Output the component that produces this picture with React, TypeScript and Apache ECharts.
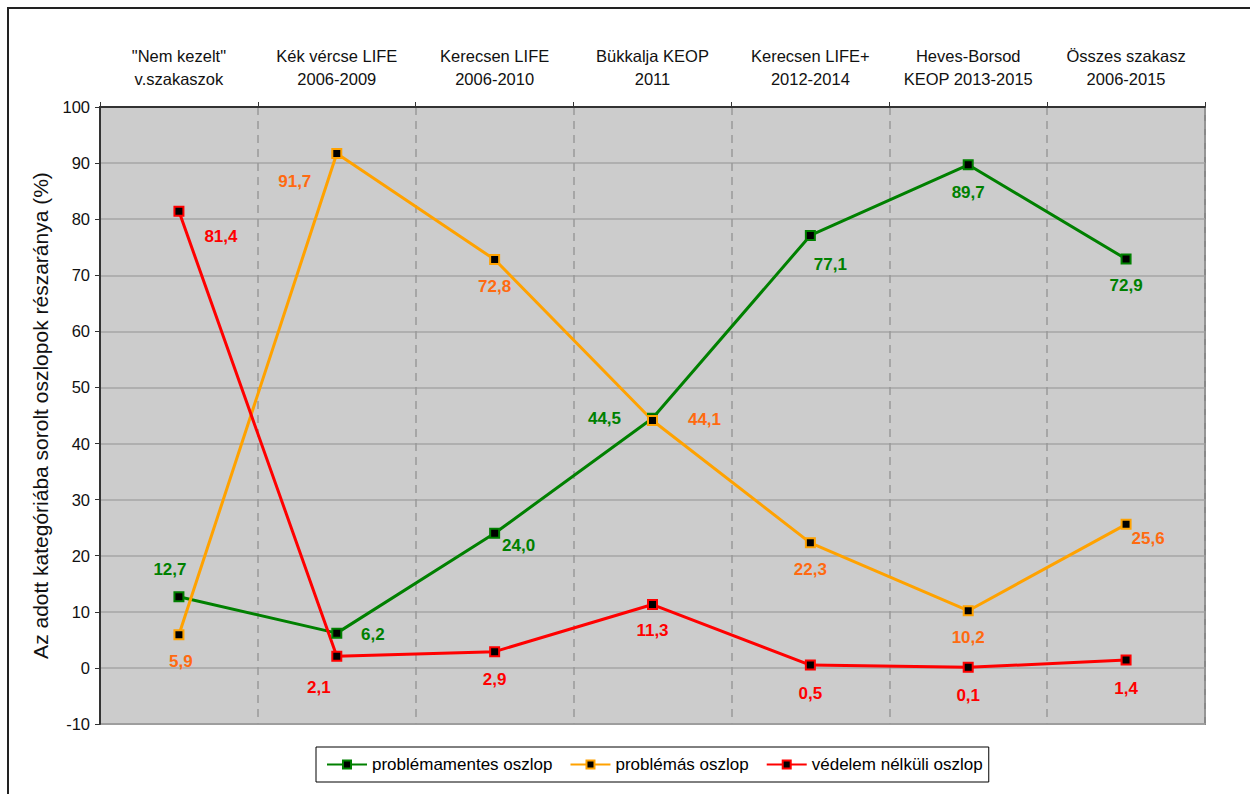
import React, { useEffect, useRef } from "react";
import * as echarts from "echarts";

const categories = [
  '"Nem kezelt"\nv.szakaszok',
  "Kék vércse LIFE\n2006-2009",
  "Kerecsen LIFE\n2006-2010",
  "Bükkalja KEOP\n2011",
  "Kerecsen LIFE+\n2012-2014",
  "Heves-Borsod\nKEOP 2013-2015",
  "Összes szakasz\n2006-2015",
];

const problemFree = [12.7, 6.2, 24.0, 44.5, 77.1, 89.7, 72.9];
const problematic = [5.9, 91.7, 72.8, 44.1, 22.3, 10.2, 25.6];
const unprotected = [81.4, 2.1, 2.9, 11.3, 0.5, 0.1, 1.4];

const seriesNames = ["problémamentes oszlop", "problémás oszlop", "védelem nélküli oszlop"];

// Where each value label sits relative to its marker, in pixels
const greenLabelOffsets = [[-9, -27], [36, 1], [24, 12], [-48, 0], [20, 29], [0, 28], [0, 26]];
const orangeLabelOffsets = [[2, 27], [-42, 28], [0, 27], [52, -1], [0, 27], [0, 27], [22, 14]];
const redLabelOffsets = [[42, 25], [-18, 31], [0, 28], [0, 26], [0, 28], [0, 28], [0, 28]];

const FONT = "'Liberation Sans', Arial, sans-serif";

function fmt(v: number) {
  return v.toFixed(1).replace(".", ",");
}

function buildSeries(
  name: string,
  values: number[],
  offsets: number[][],
  lineColor: string,
  labelColor: string
) {
  return {
    name,
    type: "line",
    data: values.map((v, i) => ({
      value: v,
      label: { offset: offsets[i] },
    })),
    symbol: "rect",
    symbolSize: 9,
    lineStyle: { color: lineColor, width: 3 },
    itemStyle: { color: "#000", borderColor: lineColor, borderWidth: 2 },
    label: {
      show: true,
      position: "inside",
      formatter: (p: any) => fmt(p.value),
      color: labelColor,
      fontFamily: FONT,
      fontWeight: "bold",
      fontSize: 17,
    },
    emphasis: { disabled: true },
  };
}

export default function App() {
  const ref = useRef<HTMLDivElement>(null);

  useEffect(() => {
    if (!ref.current) return;
    const chart = echarts.init(ref.current, undefined, { renderer: "svg" });
    chart.setOption({
      animation: false,
      backgroundColor: "#fff",
      textStyle: { fontFamily: FONT },
      graphic: [
        {
          type: "rect",
          shape: { x: 8, y: 8, width: 1260, height: 800 },
          style: { fill: "none", stroke: "#222", lineWidth: 2 },
          silent: true,
          z: -1,
        },
      ],
      grid: {
        left: 100,
        top: 107,
        right: 45,
        bottom: 70,
        show: true,
        backgroundColor: "#cccccc",
        borderColor: "#888",
        borderWidth: 2,
      },
      legend: {
        left: 316,
        top: 747,
        width: 700,
        data: seriesNames,
        backgroundColor: "#fff",
        borderColor: "#000",
        borderWidth: 1,
        borderRadius: 0,
        padding: [9, 6, 9, 10],
        itemGap: 17,
        itemWidth: 40,
        itemHeight: 10,
        textStyle: { fontFamily: FONT, fontSize: 17, color: "#000" },
      },
      xAxis: {
        type: "category",
        position: "top",
        data: categories,
        boundaryGap: true,
        axisLine: { show: true, onZero: false, lineStyle: { color: "#333", width: 2 } },
        axisTick: { show: true, alignWithLabel: false, length: 5, lineStyle: { color: "#333" } },
        axisLabel: {
          fontFamily: FONT,
          fontSize: 16.5,
          lineHeight: 23,
          color: "#111",
          margin: 17,
          interval: 0,
        },
        splitLine: {
          show: true,
          lineStyle: { color: "#999", type: [8, 6], width: 1.5 },
        },
      },
      yAxis: {
        type: "value",
        min: -10,
        max: 100,
        interval: 10,
        name: "Az adott kategóriába sorolt oszlopok részaránya (%)",
        nameLocation: "middle",
        nameGap: 49,
        nameTextStyle: { fontFamily: FONT, fontSize: 21, color: "#111" },
        axisLine: { show: true, lineStyle: { color: "#333", width: 2 } },
        axisTick: { show: true, length: 5, lineStyle: { color: "#333" } },
        axisLabel: { fontFamily: FONT, fontSize: 16.5, color: "#111", margin: 10 },
        splitLine: { show: true, lineStyle: { color: "#a6a6a6", width: 1.5 } },
      },
      series: [
        buildSeries(seriesNames[0], problemFree, greenLabelOffsets, "#008000", "#008000"),
        buildSeries(seriesNames[1], problematic, orangeLabelOffsets, "#ffa200", "#ff6a10"),
        buildSeries(seriesNames[2], unprotected, redLabelOffsets, "#ff0000", "#ff0000"),
      ],
    });
    return () => chart.dispose();
  }, []);

  return (
    <div
      ref={ref}
      style={{ position: "fixed", left: 0, top: 0, width: 1250, height: 794 }}
    />
  );
}
